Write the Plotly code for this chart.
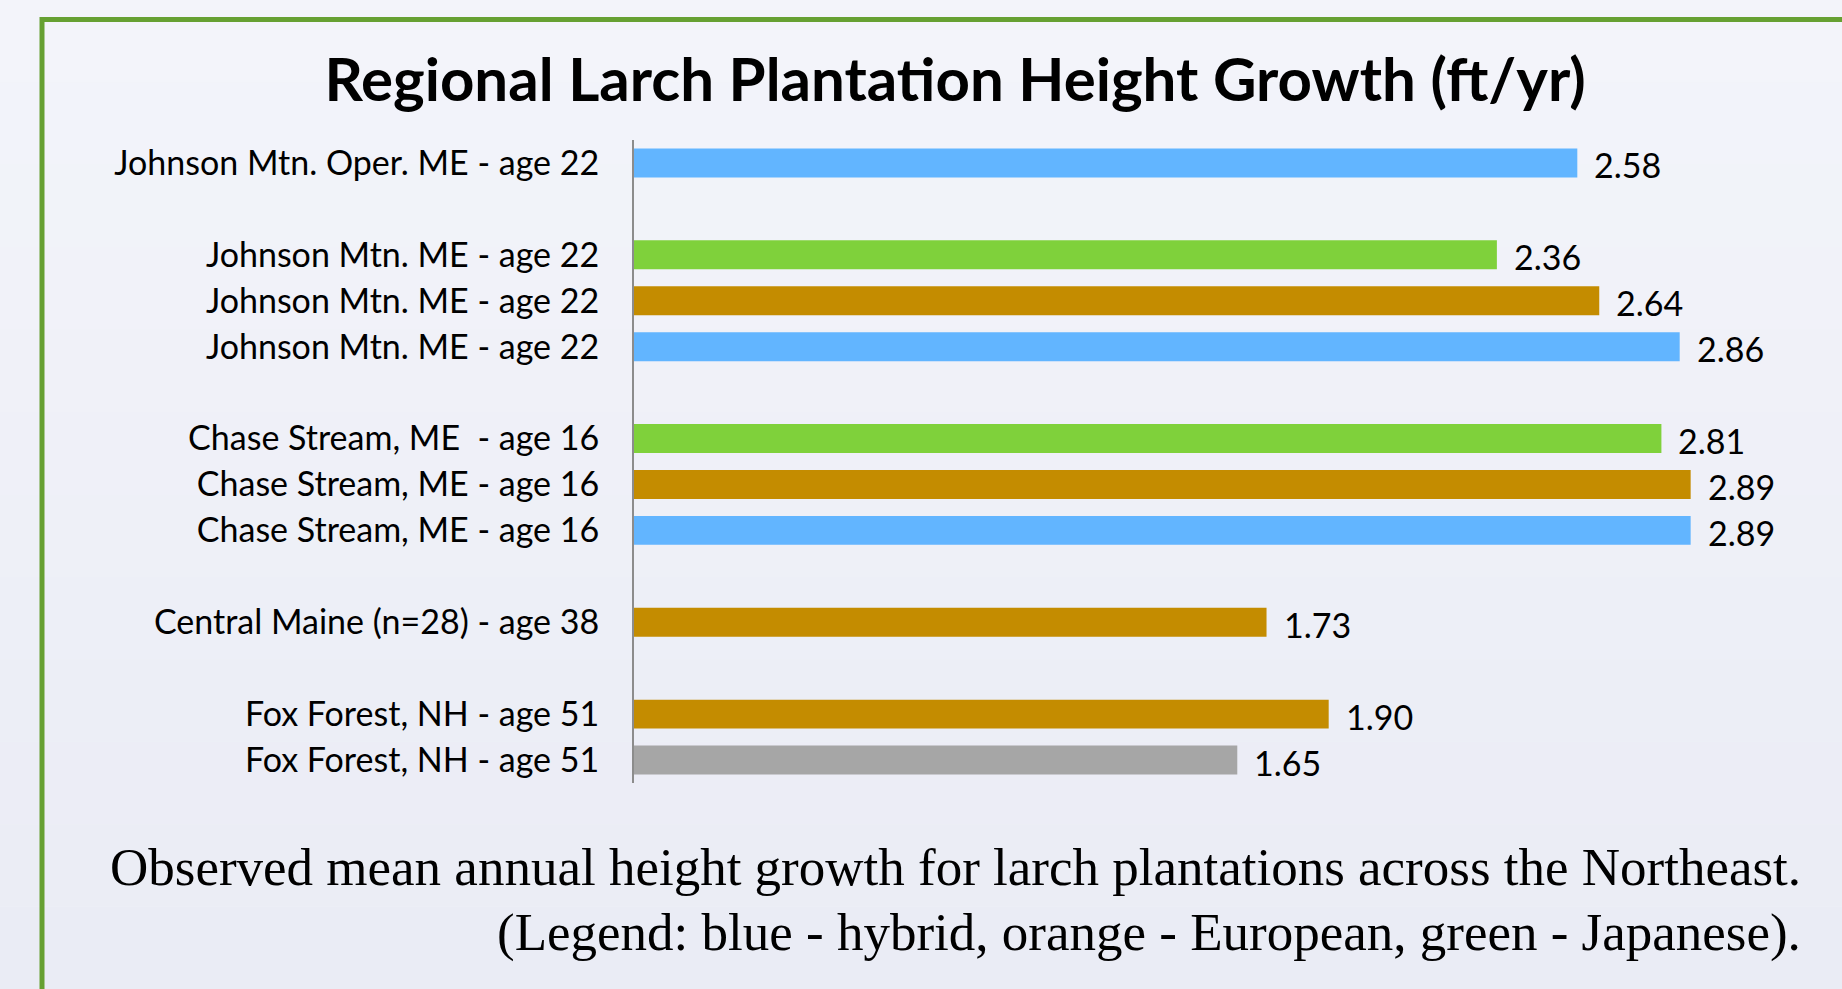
import plotly.graph_objects as go

# data
labels = [
    "Johnson Mtn. Oper. ME - age 22",
    "Johnson Mtn. ME - age 22",
    "Johnson Mtn. ME - age 22",
    "Johnson Mtn. ME - age 22",
    "Chase Stream, ME  - age 16",
    "Chase Stream, ME - age 16",
    "Chase Stream, ME - age 16",
    "Central Maine (n=28) - age 38",
    "Fox Forest, NH - age 51",
    "Fox Forest, NH - age 51",
]
values = [2.58, 2.36, 2.64, 2.86, 2.81, 2.89, 2.89, 1.73, 1.90, 1.65]
species = ["hybrid", "japanese", "european", "hybrid", "japanese", "european",
           "hybrid", "european", "european", "other"]
site_group = [0, 1, 1, 1, 2, 2, 2, 3, 4, 4]

colors = {
    "hybrid": "#62B5FF",
    "japanese": "#7FD13B",
    "european": "#C48C00",
    "other": "#A6A6A6",
}

# the span split keeps Lato from drawing a "ti" ligature
title = "<b>Regional Larch Plan<span>t</span>ation Height Growth (ft/yr)</b>"
caption_lines = [
    "Observed mean annual height growth for larch plantations across the Northeast.",
    "(Legend: blue - hybrid, orange - European, green - Japanese).",
]

# one empty slot between site groups
slots = [i + g for i, g in enumerate(site_group)]
n_slots = slots[-1] + 1

W, H = 1842, 989
L, R, T, B = 634, 38, 140, 206
pw = W - L - R
ph = H - T - B
xmax = 3.2

sans = "Lato, Open Sans, sans-serif"


def px_x(px):
    return (px - L) / pw


def px_y(py):
    return 1 - (py - T) / ph


fig = go.Figure()
fig.add_trace(go.Bar(
    x=values,
    y=slots,
    orientation="h",
    marker=dict(color=[colors[s] for s in species], line=dict(width=0)),
    width=0.63,
    hoverinfo="x",
))

# value labels to the right of each bar
for v, s in zip(values, slots):
    fig.add_annotation(
        x=v, y=s, xref="x", yref="y",
        text=f"{v:.2f}", showarrow=False,
        xanchor="left", xshift=15, yshift=-2,
        font=dict(family=sans, size=34, color="black"),
    )

# soft background gradient
bands = 12
top_rgb = (243, 244, 250)
bot_rgb = (234, 236, 245)
for k in range(bands):
    f = k / (bands - 1)
    c = tuple(round(a + (b - a) * f) for a, b in zip(top_rgb, bot_rgb))
    fig.add_shape(
        type="rect", xref="paper", yref="paper", layer="below",
        x0=px_x(0), x1=px_x(W), y0=px_y(H * (k + 1) / bands), y1=px_y(H * k / bands),
        fillcolor=f"rgb{c}", line=dict(width=0),
    )

# green frame (runs off the right and bottom edges)
fig.add_shape(
    type="rect", xref="paper", yref="paper", layer="below",
    x0=px_x(42), x1=px_x(W + 20), y0=px_y(H + 20), y1=px_y(19.5),
    line=dict(color="#66A032", width=5), fillcolor="rgba(0,0,0,0)",
)

# caption, right aligned, one annotation per line
for line, top_px in zip(caption_lines, [836, 901]):
    fig.add_annotation(
        xref="paper", yref="paper",
        x=px_x(1803), y=px_y(top_px),
        xanchor="right", yanchor="top", align="right",
        text=line, showarrow=False,
        font=dict(family="Liberation Serif, Times New Roman, serif", size=53, color="black"),
    )

fig.update_layout(
    width=W, height=H,
    margin=dict(l=L, r=R, t=T, b=B, autoexpand=False),
    paper_bgcolor="#F0F2F8",
    plot_bgcolor="rgba(0,0,0,0)",
    showlegend=False,
    bargap=0.37,
    title=dict(
        text=title, xref="container", yref="container",
        x=955 / W, xanchor="center", y=1 - 80 / H, yanchor="middle",
        font=dict(family=sans, size=60, color="black"),
    ),
)

fig.update_xaxes(
    range=[0, xmax],
    showgrid=False, zeroline=False, showticklabels=False, showline=False,
)
fig.update_yaxes(
    range=[n_slots - 0.5, -0.5],
    tickmode="array", tickvals=slots, ticktext=labels,
    tickfont=dict(family=sans, size=34, color="black"),
    ticks="", ticklabelstandoff=26,
    showgrid=False, zeroline=False,
    showline=True, linecolor="#8C8C8C", linewidth=2,
)

fig.write_html("out.html", config={"displayModeBar": False},
               post_script="document.body.style.margin='0';")
